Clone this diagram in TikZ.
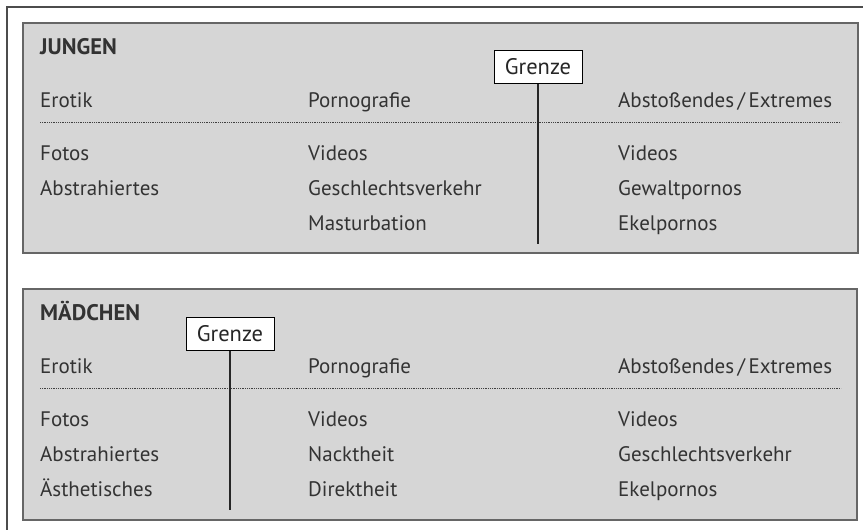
\documentclass[tikz,border=0pt]{standalone}
\usepackage{fontspec}
\setmainfont{PT Sans}
\begin{document}
\begin{tikzpicture}[x=1pt,y=-1pt,
  txt/.style={anchor=base west,inner sep=0pt,text=black!80,font=\fontsize{21}{25}\selectfont},
  head/.style={txt,font=\fontsize{22.5}{27}\selectfont\bfseries},
  panel/.style={draw=black!60,fill=gray!32!white,line width=1.2pt},
  grenzebox/.style={draw=black,fill=white,line width=0.8pt,minimum width=88pt,minimum height=33pt,inner sep=0pt,text=black!85,font=\fontsize{22.5}{27}\selectfont},
  sep/.style={black!75,line width=0.8pt,dash pattern=on 0.7pt off 1.1pt},
  gline/.style={black!85,line width=1.3pt}]
\useasboundingbox (0,0) rectangle (863,530);
\draw[black!70,line width=1.5pt] (7,530) -- (7,7) -- (863,7);
% Panel 1
\draw[panel] (23,23) rectangle (858,253);
\node[head] (j) at (40,54) {JUNGEN};
\node[txt] (j1) at (40,107) {Erotik};
\node[txt] (j2) at (308,107) {Pornografie};
\node[txt] (j3) at (618,107) {Abstoßendes\,/\,Extremes};
\draw[sep] (40,122) -- (841,122);
\node[txt] (ja1) at (40,160) {Fotos};
\node[txt] (ja2) at (40,195) {Abstrahiertes};
\node[txt] (jb1) at (308,160) {Videos};
\node[txt] (jb2) at (308,195) {Geschlechtsverkehr};
\node[txt] (jb3) at (308,230) {Masturbation};
\node[txt] (jc1) at (618,160) {Videos};
\node[txt] (jc2) at (618,195) {Gewaltpornos};
\node[txt] (jc3) at (618,230) {Ekelpornos};
\node[grenzebox] (g1) at (538,67) {Grenze};
\coordinate (g1e) at (538,244);
\draw[gline] (g1.south) -- (g1e);
% Panel 2
\draw[panel] (23,289) rectangle (857,520);
\node[head] (m) at (40,320) {MÄDCHEN};
\node[txt] (m1) at (40,373) {Erotik};
\node[txt] (m2) at (308,373) {Pornografie};
\node[txt] (m3) at (618,373) {Abstoßendes\,/\,Extremes};
\draw[sep] (40,388) -- (841,388);
\node[txt] (ma1) at (40,426) {Fotos};
\node[txt] (ma2) at (40,461) {Abstrahiertes};
\node[txt] (ma3) at (40,496) {Ästhetisches};
\node[txt] (mb1) at (308,426) {Videos};
\node[txt] (mb2) at (308,461) {Nacktheit};
\node[txt] (mb3) at (308,496) {Direktheit};
\node[txt] (mc1) at (618,426) {Videos};
\node[txt] (mc2) at (618,461) {Geschlechtsverkehr};
\node[txt] (mc3) at (618,496) {Ekelpornos};
\node[grenzebox] (g2) at (230,334) {Grenze};
\coordinate (g2e) at (230,510);
\draw[gline] (g2.south) -- (g2e);
\end{tikzpicture}
\end{document}
